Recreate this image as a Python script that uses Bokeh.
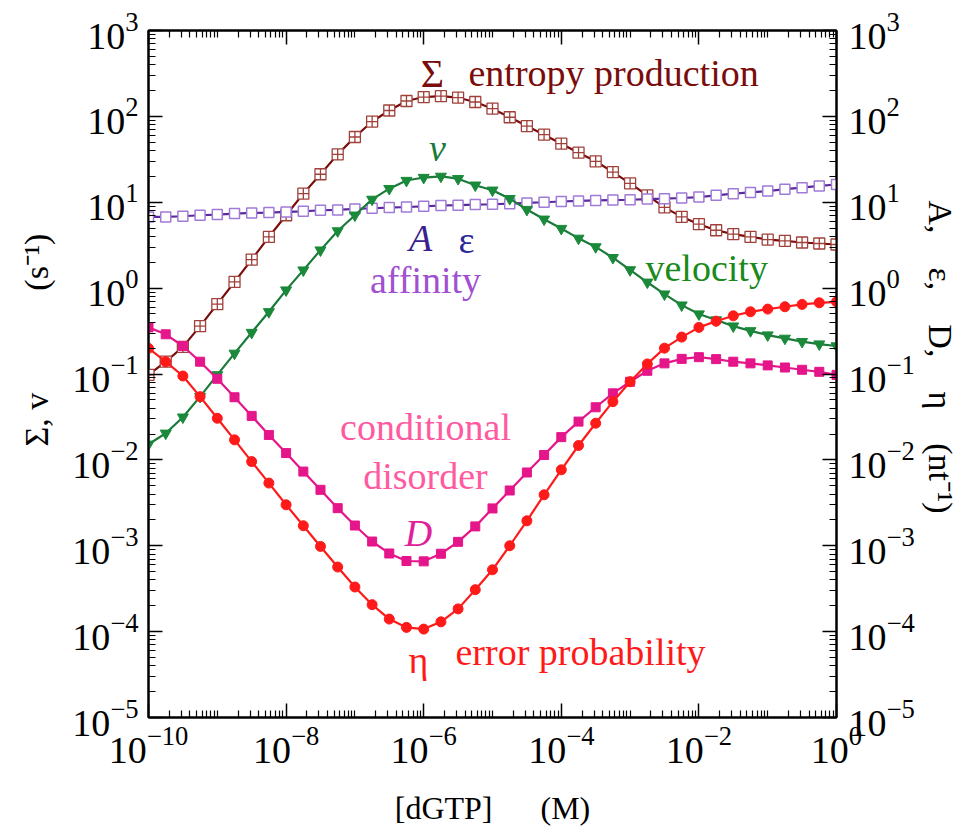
from bokeh.plotting import figure
from bokeh.models import FixedTicker, LogAxis, Label, CustomJSTickFormatter
from bokeh.embed import file_html
from bokeh.resources import INLINE

# ---------------- data ----------------
dgtp = [1.00e-10, 1.78e-10, 3.16e-10, 5.62e-10,
        1.00e-9, 1.78e-9, 3.16e-9, 5.62e-9,
        1.00e-8, 1.78e-8, 3.16e-8, 5.62e-8,
        1.00e-7, 1.78e-7, 3.16e-7, 5.62e-7,
        1.00e-6, 1.78e-6, 3.16e-6, 5.62e-6,
        1.00e-5, 1.78e-5, 3.16e-5, 5.62e-5,
        1.00e-4, 1.78e-4, 3.16e-4, 5.62e-4,
        1.00e-3, 1.78e-3, 3.16e-3, 5.62e-3,
        1.00e-2, 1.78e-2, 3.16e-2, 5.62e-2,
        1.00e-1, 1.78e-1, 3.16e-1, 5.62e-1,
        1.00]

entropy = [0.0977, 0.139, 0.207, 0.361, 0.652, 1.18, 2.15, 3.95, 7.06, 12.6,
           21.2, 36.1, 57.5, 87.1, 117, 151, 168, 172, 165, 147,
           123, 97.7, 77.1, 61.2, 48.1, 37.8, 30.0, 22.4, 16.6, 12.0,
           8.71, 6.76, 5.55, 4.72, 4.25, 3.95, 3.68, 3.55, 3.40, 3.31,
           3.22]

affinity = [6.75, 6.75, 6.87, 7.06, 7.19, 7.38, 7.52, 7.59, 7.71, 7.85,
            8.07, 8.13, 8.36, 8.51, 8.67, 8.81, 8.97, 9.16, 9.25, 9.40,
            9.48, 9.62, 9.82, 10.0, 10.2, 10.35, 10.5, 10.6, 10.7, 10.9,
            11.0, 11.2, 11.5, 12.05, 12.6, 13.0, 13.5, 14.2, 14.8, 15.5,
            16.1]

velocity = [0.0152, 0.0204, 0.0314, 0.0545, 0.0977, 0.174, 0.304, 0.530, 0.948, 1.62,
            2.77, 4.63, 7.06, 10.8, 14.4, 17.9, 19.4, 20.0, 18.8, 15.8,
            13.8, 11.0, 8.22, 6.34, 4.94, 3.80, 3.02, 2.26, 1.63, 1.17,
            0.851, 0.634, 0.499, 0.425, 0.361, 0.318, 0.284, 0.260, 0.238, 0.223,
            0.212]

disorder = [0.349, 0.290, 0.212, 0.139, 0.0879, 0.0536, 0.0325, 0.0195, 0.0120, 0.00731,
            0.00448, 0.00274, 0.00172, 0.00112, 0.000813, 0.000664, 0.000658, 0.000807, 0.00111, 0.00168,
            0.00272, 0.00440, 0.00713, 0.0114, 0.0184, 0.0279, 0.0410, 0.0596, 0.0813, 0.109,
            0.133, 0.150, 0.157, 0.149, 0.139, 0.133, 0.126, 0.119, 0.112, 0.106,
            0.0977]

error = [0.199, 0.139, 0.0948, 0.0545, 0.0305, 0.0171, 0.00955, 0.00537, 0.00300, 0.00171,
         0.000982, 0.000565, 0.000331, 0.000206, 0.000140, 0.000112, 0.000107, 0.000130, 0.000184, 0.000308,
         0.000525, 0.00100, 0.00195, 0.00392, 0.00766, 0.0147, 0.0267, 0.0476, 0.0813, 0.131,
         0.200, 0.269, 0.349, 0.412, 0.476, 0.530, 0.570, 0.607, 0.646, 0.675,
         0.693]

x_major = [1e-10, 1e-8, 1e-6, 1e-4, 1e-2, 1e0]
y_major = [1e-5, 1e-4, 1e-3, 1e-2, 1e-1, 1e0, 1e1, 1e2, 1e3]

x_minor = [m * 10.0 ** e for e in range(-10, 0) for m in range(1, 10) if not (m == 1 and e % 2 == 0)]
y_minor = [m * 10.0 ** e for e in range(-5, 3) for m in range(2, 10)]

SERIF = "Liberation Serif"
EM, EN = "\u2003", "\u2002"

p = figure(width=962, height=833, x_axis_type="log", y_axis_type="log",
           x_range=(1e-10, 1.0), y_range=(1e-5, 1e3),
           output_backend="svg", toolbar_location=None,
           min_border_left=148, min_border_right=126,
           min_border_top=30, min_border_bottom=116)
p.grid.visible = False
p.outline_line_color = "black"
p.outline_line_width = 2
p.background_fill_color = "white"
p.border_fill_color = "white"

xt = FixedTicker(ticks=x_major, minor_ticks=x_minor)
yt = FixedTicker(ticks=y_major, minor_ticks=y_minor)


def style(ax):
    ax.axis_line_width = 2
    ax.axis_line_color = "black"
    ax.major_tick_in = 14
    ax.major_tick_out = 0
    ax.minor_tick_in = 7
    ax.minor_tick_out = 0
    ax.major_tick_line_width = 1.5
    ax.minor_tick_line_width = 1.2
    ax.major_label_text_font = SERIF
    ax.major_label_text_font_size = "38px"
    ax.major_label_text_color = "black"
    ax.axis_label_text_font = SERIF
    ax.axis_label_text_font_size = "32px"
    ax.axis_label_text_font_style = "normal"
    ax.axis_label_text_color = "black"


xa = p.xaxis[0]
xa.ticker = xt
style(xa)
xa.major_label_standoff = 9
xa.axis_label = "[dGTP]" + EM + EN + "(M)"
xa.axis_label_standoff = 24

ya = p.yaxis[0]
ya.ticker = yt
style(ya)
ya.major_label_standoff = 10
ya.axis_label_text_font_size = "34px"
ya.axis_label = EM + EM + "\u03a3, v" + EM + EM + EM + "(s\u207b\u00b9)"
ya.axis_label_standoff = 14

top = LogAxis(ticker=xt, formatter=CustomJSTickFormatter(code="return ''"))
style(top)
top.major_label_text_font_size = "10px"
top.major_label_standoff = 0
p.add_layout(top, "above")

right = LogAxis(ticker=yt)
style(right)
right.major_label_standoff = 12
right.axis_label_text_font_size = "34px"
right.axis_label = ("A," + EN + EN + "\u03b5," + EN + EN + "D," + EN + EN + "\u03b7"
                    + EM + "(nt\u207b\u00b9)" + EM)
right.axis_label_standoff = 4
p.add_layout(right, "right")

# ---------------- series ----------------
C_ENT = "#7a0c0c"
C_AFF = "#5a2a9a"
C_VEL = "#1b7a3a"
C_DIS = "#e5158a"
C_ERR = "#ff1a1a"

p.line(dgtp, entropy, line_color=C_ENT, line_width=2.2)
p.scatter(dgtp, entropy, marker="square_cross", size=11, line_color="#a0403a",
          fill_color="white", line_width=1.3)

p.line(dgtp, affinity, line_color=C_AFF, line_width=2.2)
p.scatter(dgtp, affinity, marker="square", size=10, line_color="#a07ad8",
          fill_color="white", line_width=1.5)

p.line(dgtp, velocity, line_color=C_VEL, line_width=2.2)
p.scatter(dgtp, velocity, marker="inverted_triangle", size=11, line_color="#1a8a3a",
          fill_color="#1a8a3a")

p.line(dgtp, disorder, line_color=C_DIS, line_width=2.2)
p.scatter(dgtp, disorder, marker="square", size=9, line_color=C_DIS, fill_color=C_DIS)

p.line(dgtp, error, line_color=C_ERR, line_width=2.2)
p.scatter(dgtp, error, marker="circle", size=10, line_color=C_ERR, fill_color=C_ERR)


# ---------------- annotations ----------------
# helpers converting pixel positions measured on the 962x833 canvas to data coords
def px_x(px):
    return 10 ** (-10 + (px - 148) / 68.8)


def px_y(py):
    return 10 ** (3 - (py - 30) / 85.9)


def lab(px, py, text, color, align="left", style="normal", size="38px"):
    p.add_layout(Label(x=px_x(px), y=px_y(py), text=text, text_color=color, text_font=SERIF,
                       text_font_size=size, text_align=align, text_baseline="middle",
                       text_font_style=style))


lab(432, 73, "\u03a3", "#7a0c0c", align="center", size="40px")
lab(468, 73, "entropy production", "#7a0c0c")
lab(437, 148, "v", "#1b7a3a", align="center", style="italic")
lab(645, 268, "velocity", "#1a8a1a")
lab(420, 238, "A", "#3b1f8c", align="center", style="italic")
lab(466, 240, "\u03b5", "#2a2a9a", align="center")
lab(425, 280, "affinity", "#a050d0", align="center")
lab(425, 427, "conditional", "#ff5aa0", align="center")
lab(425, 476, "disorder", "#ff5aa0", align="center")
lab(418, 533, "D", "#e0209a", align="center", style="italic")
lab(418, 660, "\u03b7", "#ff1a1a", align="center")
lab(455, 652, "error probability", "#ff1a1a")

open("out.html", "w").write(file_html(p, INLINE))
